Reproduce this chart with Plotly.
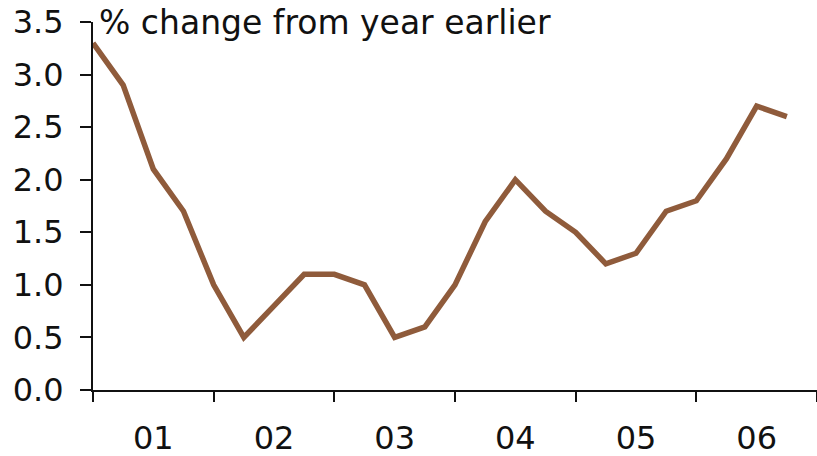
import plotly.graph_objects as go

years = ["01", "02", "03", "04", "05", "06"]
values = [3.3, 2.9, 2.1, 1.7, 1.0, 0.5, 0.8, 1.1, 1.1, 1.0, 0.5, 0.6,
          1.0, 1.6, 2.0, 1.7, 1.5, 1.2, 1.3, 1.7, 1.8, 2.2, 2.7, 2.6]
y_ticks = [0.0, 0.5, 1.0, 1.5, 2.0, 2.5, 3.0, 3.5]
title_text = "% change from year earlier"

x = list(range(len(values)))
font = dict(family="DejaVu Sans", size=32, color="#111111")

fig = go.Figure()
fig.add_trace(go.Scatter(x=x, y=values, mode="lines",
                         line=dict(color="#8F5B3B", width=5.5),
                         cliponaxis=False, hoverinfo="skip"))

fig.update_layout(
    width=817, height=456,
    margin=dict(l=93, r=0, t=22, b=66, autoexpand=False),
    paper_bgcolor="white", plot_bgcolor="white",
    showlegend=False,
    font=font,
    xaxis=dict(
        range=[0, 24],
        automargin=False,
        tickvals=[2 + 4 * i for i in range(len(years))],
        ticktext=years,
        ticks="", showgrid=False, zeroline=False,
        showline=True, linecolor="#111111", linewidth=2,
        ticklabelstandoff=19,
        tickfont=font,
        minor=dict(tickvals=[4 * i for i in range(len(years) + 1)],
                   ticks="outside", ticklen=10, tickwidth=2,
                   tickcolor="#111111", showgrid=False),
    ),
    yaxis=dict(
        range=[0, 3.5],
        automargin=False,
        tickvals=y_ticks,
        ticktext=[f"{v:.1f}" for v in y_ticks],
        ticks="outside", ticklen=11, tickwidth=2, tickcolor="#111111",
        showgrid=False, zeroline=False,
        showline=True, linecolor="#111111", linewidth=2,
        ticklabelstandoff=10,
        tickfont=font,
    ),
    annotations=[dict(x=0, y=3.5, xref="x", yref="y", text=title_text,
                      showarrow=False, xanchor="left", yanchor="middle",
                      xshift=4, font=dict(family="DejaVu Sans", size=33,
                                          color="#111111"))],
)

fig.write_html("out.html")
